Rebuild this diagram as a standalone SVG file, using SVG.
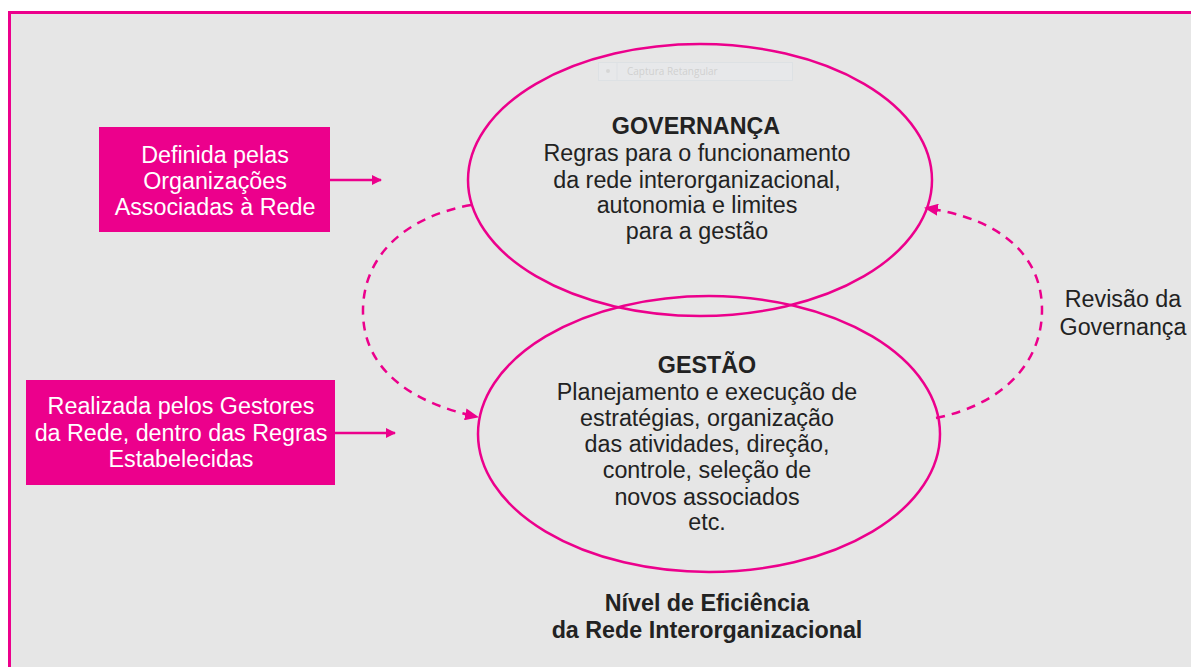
<svg xmlns="http://www.w3.org/2000/svg" width="1191" height="667" viewBox="0 0 1191 667">
<defs>
<marker id="ah" markerWidth="10" markerHeight="10" refX="9" refY="5" orient="auto" markerUnits="userSpaceOnUse"><path d="M0,0 L10,5 L0,10 z" fill="#ec008c"/></marker>
<marker id="ah2" markerWidth="14" markerHeight="12" refX="13" refY="6" orient="auto" markerUnits="userSpaceOnUse"><path d="M0,0 L14,6 L0,12 z" fill="#ec008c"/></marker>
</defs>
<style>
.t{font-family:"Liberation Sans",Arial,sans-serif;font-size:23.3px;fill:#222;text-anchor:middle}
.b{font-weight:bold}
.w{fill:#fff}
.box{fill:#ec008c}
.ell{fill:none;stroke:#ec008c;stroke-width:2.5}
.dash{fill:none;stroke:#ec008c;stroke-width:2.5;stroke-dasharray:9,7}
.arr{stroke:#ec008c;stroke-width:2.5;fill:none}
</style>
<rect width="1191" height="667" fill="#fff"/>
<rect x="9.5" y="12.5" width="1200" height="700" fill="#e6e6e6" stroke="#ec008c" stroke-width="3"/>
<g id="watermark" opacity="0.5">
<rect x="598.5" y="62.5" width="194" height="18" fill="#e9ebee" stroke="#d6dde4"/>
<line x1="617" y1="63" x2="617" y2="80" stroke="#d6dde4"/>
<circle cx="608" cy="71" r="2" fill="#c8c8c8"/>
<text x="627" y="75" font-family="'Open Sans','Liberation Sans',sans-serif" font-size="10" fill="#bbb">Captura Retangular</text>
</g>
<g id="connectors">
<line class="arr" x1="330" y1="180" x2="381" y2="180" marker-end="url(#ah)"/>
<line class="arr" x1="335" y1="433" x2="395" y2="433" marker-end="url(#ah)"/>
<path class="dash" d="M471,205 C400,218 362,260 363,313 C364,375 420,405 478,417" marker-end="url(#ah2)"/>
<path class="dash" d="M936,418 C1000,405 1042,365 1042,310 C1042,255 1000,218 925,208" marker-end="url(#ah2)"/>
</g>
<g id="governanca">
<ellipse class="ell" cx="700" cy="180" rx="232" ry="136"/>
<text class="t b" x="696" y="134">GOVERNANÇA</text>
<text class="t" x="697" y="161">Regras para o funcionamento</text>
<text class="t" x="697" y="188">da rede interorganizacional,</text>
<text class="t" x="697" y="213">autonomia e limites</text>
<text class="t" x="697" y="239">para a gestão</text>
</g>
<g id="gestao">
<ellipse class="ell" cx="709" cy="434" rx="231" ry="138"/>
<text class="t b" x="707" y="373">GESTÃO</text>
<text class="t" x="707" y="400">Planejamento e execução de</text>
<text class="t" x="707" y="426">estratégias, organização</text>
<text class="t" x="707" y="452">das atividades, direção,</text>
<text class="t" x="707" y="478">controle, seleção de</text>
<text class="t" x="707" y="505">novos associados</text>
<text class="t" x="707" y="530">etc.</text>
</g>
<g id="definida">
<rect class="box" x="99" y="127" width="231" height="105"/>
<text class="t w" x="215" y="163">Definida pelas</text>
<text class="t w" x="215" y="189">Organizações</text>
<text class="t w" x="215" y="215">Associadas à Rede</text>
</g>
<g id="realizada">
<rect class="box" x="26" y="380" width="309" height="105"/>
<text class="t w" x="181" y="414">Realizada pelos Gestores</text>
<text class="t w" x="181" y="441">da Rede, dentro das Regras</text>
<text class="t w" x="181" y="467">Estabelecidas</text>
</g>
<g id="revisao">
<text class="t" x="1123" y="307">Revisão da</text>
<text class="t" x="1123" y="335">Governança</text>
</g>
<g id="nivel">
<text class="t b" x="707" y="611">Nível de Eficiência</text>
<text class="t b" x="707" y="638">da Rede Interorganizacional</text>
</g>
</svg>
